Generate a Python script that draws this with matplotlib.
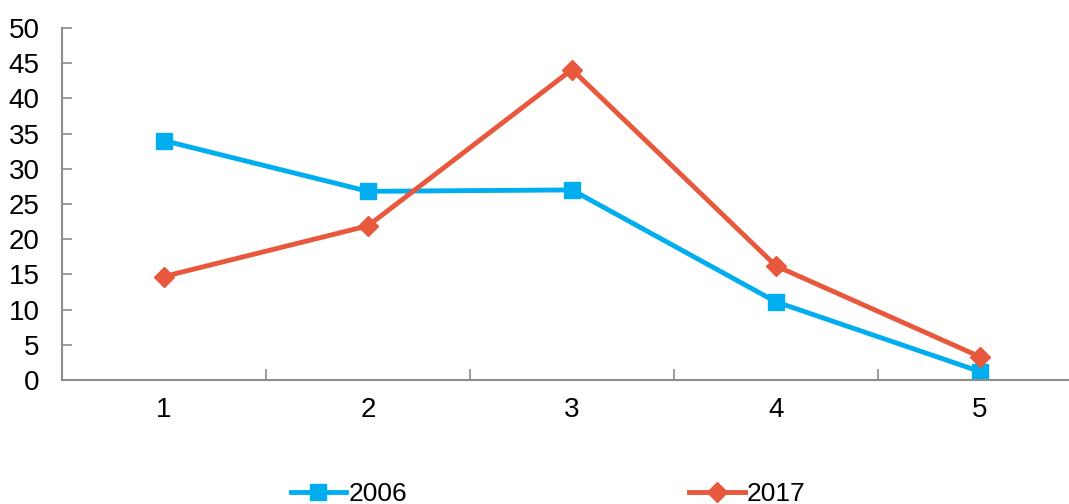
import matplotlib
matplotlib.use("Agg")
import matplotlib.pyplot as plt

plt.rcParams["font.family"] = ["Liberation Sans", "DejaVu Sans"]

categories = [1, 2, 3, 4, 5]
series_names = ["2006", "2017"]
values_2006 = [34.0, 26.8, 27.0, 11.1, 1.2]
values_2017 = [14.7, 21.9, 44.1, 16.2, 3.3]

BLUE = "#00AEEF"
ORANGE = "#E8583D"
GRAY = "#8C8C8C"

fig = plt.figure(figsize=(10.69, 5.04), dpi=100)
ax = fig.add_axes([62 / 1069, 1 - 380 / 504, 1 - 62 / 1069, (380 - 28) / 504])

ax.plot(categories, values_2006, color=BLUE, lw=3.5, marker="s", ms=12,
        label=series_names[0], solid_joinstyle="round")
ax.plot(categories, values_2017, color=ORANGE, lw=3.5, marker="D", ms=10,
        label=series_names[1], solid_joinstyle="round")

ax.set_xlim(0.5, 0.5 + (1069 - 62) / 204)
ax.set_ylim(0, 50)
ax.set_yticks(range(0, 51, 5))

# category labels centred, tick marks between categories
ax.set_xticks(categories)
ax.set_xticks([1.5, 2.5, 3.5, 4.5], minor=True)
ax.tick_params(axis="x", which="major", length=0, pad=12, labelsize=20)
ax.tick_params(axis="x", which="minor", length=8, direction="in",
               color=GRAY, width=1.2)
ax.tick_params(axis="y", length=7, direction="in", color=GRAY, width=1.2,
               pad=16, labelsize=20)

for side in ["top", "right"]:
    ax.spines[side].set_visible(False)
for side in ["left", "bottom"]:
    ax.spines[side].set_color(GRAY)
    ax.spines[side].set_linewidth(1.5)

fig.legend(loc="center", bbox_to_anchor=(548 / 1069, 1 - 494 / 504),
           ncol=2, frameon=False, fontsize=19, handlelength=2.1,
           handletextpad=0.08, columnspacing=10.7, borderaxespad=0)

fig.savefig("out.png", dpi=100)
